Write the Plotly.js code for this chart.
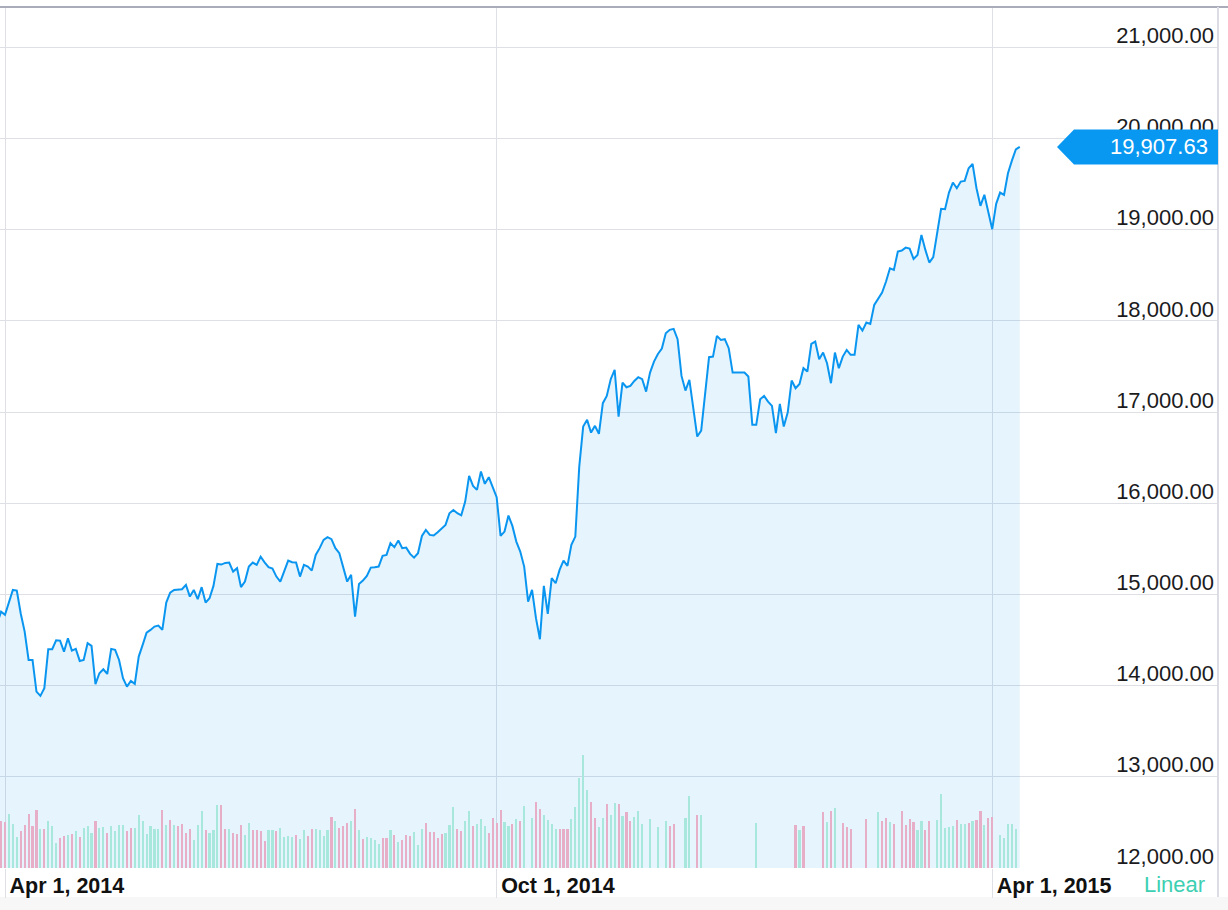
<!DOCTYPE html>
<html>
<head>
<meta charset="utf-8">
<script src="https://cdn.plot.ly/plotly-3.0.1.min.js"></script>
<style>
  html, body { margin: 0; padding: 0; background: #ffffff; }
  #chart { width: 1228px; height: 910px; }
</style>
</head>
<body>
<div id="chart"></div>
<script>
// ---- Data (Nikkei 225 daily closes) ----
const dates = [
  '2014-03-28','2014-03-31',
  '2014-04-01','2014-04-02','2014-04-03','2014-04-04','2014-04-07','2014-04-08','2014-04-09','2014-04-10','2014-04-11','2014-04-14','2014-04-15','2014-04-16','2014-04-17','2014-04-18','2014-04-21','2014-04-22','2014-04-23','2014-04-24','2014-04-25','2014-04-28','2014-04-30',
  '2014-05-01','2014-05-02','2014-05-07','2014-05-08','2014-05-09','2014-05-12','2014-05-13','2014-05-14','2014-05-15','2014-05-16','2014-05-19','2014-05-20','2014-05-21','2014-05-22','2014-05-23','2014-05-26','2014-05-27','2014-05-28','2014-05-29','2014-05-30',
  '2014-06-02','2014-06-03','2014-06-04','2014-06-05','2014-06-06','2014-06-09','2014-06-10','2014-06-11','2014-06-12','2014-06-13','2014-06-16','2014-06-17','2014-06-18','2014-06-19','2014-06-20','2014-06-23','2014-06-24','2014-06-25','2014-06-26','2014-06-27','2014-06-30',
  '2014-07-01','2014-07-02','2014-07-03','2014-07-04','2014-07-07','2014-07-08','2014-07-09','2014-07-10','2014-07-11','2014-07-14','2014-07-15','2014-07-16','2014-07-17','2014-07-18','2014-07-22','2014-07-23','2014-07-24','2014-07-25','2014-07-28','2014-07-29','2014-07-30','2014-07-31',
  '2014-08-01','2014-08-04','2014-08-05','2014-08-06','2014-08-07','2014-08-08','2014-08-11','2014-08-12','2014-08-13','2014-08-14','2014-08-15','2014-08-18','2014-08-19','2014-08-20','2014-08-21','2014-08-22','2014-08-25','2014-08-26','2014-08-27','2014-08-28','2014-08-29',
  '2014-09-01','2014-09-02','2014-09-03','2014-09-04','2014-09-05','2014-09-08','2014-09-09','2014-09-10','2014-09-11','2014-09-12','2014-09-16','2014-09-17','2014-09-18','2014-09-19','2014-09-22','2014-09-24','2014-09-25','2014-09-26','2014-09-29','2014-09-30',
  '2014-10-01','2014-10-02','2014-10-03','2014-10-06','2014-10-07','2014-10-08','2014-10-09','2014-10-10','2014-10-14','2014-10-15','2014-10-16','2014-10-17','2014-10-20','2014-10-21','2014-10-22','2014-10-23','2014-10-24','2014-10-27','2014-10-28','2014-10-29','2014-10-30','2014-10-31',
  '2014-11-04','2014-11-05','2014-11-06','2014-11-07','2014-11-10','2014-11-11','2014-11-12','2014-11-13','2014-11-14','2014-11-17','2014-11-18','2014-11-19','2014-11-20','2014-11-21','2014-11-25','2014-11-26','2014-11-27','2014-11-28',
  '2014-12-01','2014-12-02','2014-12-03','2014-12-04','2014-12-05','2014-12-08','2014-12-09','2014-12-10','2014-12-11','2014-12-12','2014-12-15','2014-12-16','2014-12-17','2014-12-18','2014-12-19','2014-12-22','2014-12-24','2014-12-25','2014-12-26','2014-12-29','2014-12-30','2014-12-31',
  '2015-01-01','2015-01-02','2015-01-05','2015-01-06','2015-01-07','2015-01-08','2015-01-09','2015-01-12','2015-01-13','2015-01-14','2015-01-15','2015-01-16','2015-01-19','2015-01-20','2015-01-21','2015-01-22','2015-01-23','2015-01-26','2015-01-27','2015-01-28','2015-01-29','2015-01-30',
  '2015-02-02','2015-02-03','2015-02-04','2015-02-05','2015-02-06','2015-02-09','2015-02-10','2015-02-11','2015-02-12','2015-02-13','2015-02-16','2015-02-17','2015-02-18','2015-02-19','2015-02-20','2015-02-23','2015-02-24','2015-02-25','2015-02-26','2015-02-27',
  '2015-03-02','2015-03-03','2015-03-04','2015-03-05','2015-03-06','2015-03-09','2015-03-10','2015-03-11','2015-03-12','2015-03-13','2015-03-16','2015-03-17','2015-03-18','2015-03-19','2015-03-20','2015-03-23','2015-03-24','2015-03-25','2015-03-26','2015-03-27','2015-03-30','2015-03-31',
  '2015-04-01','2015-04-02','2015-04-03','2015-04-06','2015-04-07','2015-04-08','2015-04-09','2015-04-10'
];

const closes = [
  14680,14810,
  14775,14926,15049,15041,14790,14592,14281,14281,13934,13887,13971,14399,14399,14497,14493,14372,14519,14383,14402,14270,14281,
  14465,14435,14015,14135,14178,14127,14402,14391,14281,14080,13988,14051,14018,14318,14446,14581,14610,14647,14658,14610,
  14910,15020,15049,15057,15057,15104,14976,15049,14947,15079,14910,14958,15093,15334,15327,15345,15349,15250,15287,15079,15140,
  15305,15349,15323,15414,15352,15298,15283,15195,15140,15268,15370,15352,15349,15195,15323,15305,15261,15433,15507,15597,15627,15605,
  15507,15452,15305,15140,15214,14756,15115,15151,15203,15294,15298,15305,15422,15433,15561,15517,15590,15507,15513,15444,15403,
  15452,15641,15707,15652,15645,15682,15726,15762,15890,15926,15890,15867,16017,16300,16190,16146,16347,16212,16285,16165,
  16066,15641,15689,15864,15751,15579,15469,15305,14921,15049,14739,14508,15093,14786,15177,15122,15268,15370,15312,15543,15634,16401,
  16840,16914,16774,16848,16760,17097,17177,17360,17462,16950,17323,17272,17287,17341,17382,17360,17224,17433,
  17553,17637,17696,17864,17901,17912,17799,17396,17235,17352,17067,16731,16796,17169,17601,17608,17835,17791,17799,17700,17433,17433,
  17433,17433,17389,16859,16859,17140,17177,17114,17067,16768,17089,16840,16994,17345,17261,17308,17481,17443,17747,17772,17579,17652,
  17535,17316,17652,17481,17608,17681,17627,17627,17956,17893,17981,17966,18175,18248,18310,18431,18577,18559,18760,18771,
  18803,18792,18680,18723,18942,18778,18639,18698,18968,19228,19224,19407,19517,19454,19527,19535,19674,19721,19454,19261,19382,19181,
  19005,19283,19407,19382,19619,19757,19880,19907.63
];

// Volume (millions of shares); null = no bar
const volumes = [
  null,140,
  138,161,131,93,110, 128,161,126,174,118, 118,142,125,74,91, 96,100,103,112,94, 121,
  126,106,141,119,122, 105,127,110,129,128, 110,120,119,158,140, 103,126,116,118,175,
  128,143,129,125,133, 104,118,83,129,170, 113,105,115,190,190, 117,118,104,102,128, 98,
  134,114,113,110,81, 115,115,111,121,93, 95,94,98,88,113, 96,118,117,113,95, 114,152,
  141,121,127,134,141, 176,113,86,93,91, 85,72,91,90,115, 98,78,83,98,95, 107,
  70,118,135,107,107, 91,102,106,128,182, 118,112,140,170,127, 131,146,125,104,151,
  135,175,137,125,133, 148,140,185,null,150, 199,178,160,143,133, 116,118,118,118,146, 183,271,
  340,233,199,151,123, 151,193,158,196,193, 156,169,142,154,170, 133,null,146,
  null,122,null,140,126, 133,null,null,149,215, null,158,160,null,null, null,null,null,null,null, null,null,
  null,null,null,null,136, null,null,null,null,null, null,null,null,null,128, 115,125,null,null,null, null,168,
  138,170,180,null,136, 123,118,null,null,null, 146,null,null,168,140, 151,138,133,null,170,
  128,148,138,115,140, 115,142,null,143,221, 121,124,126,145,131, 131,136,140,145,171, 130,149,
  153,null,98,90,131, 133,116,null
];

// Volume bar colour per day: u = teal (up), d = pink (down), - = no bar
const volumeDirection = (
  '-d' +
  'duuud ddddu duuud dudud u' +
  'uuduu duuuu dduuu uuuud' +
  'ududd dduuu duuud duddd u' +
  'udddd uuduu uuduu dduuu ud' +
  'udddu duduu uuddu duddd u' +
  'uuddd dduuu dduud uuudd' +
  'dduud udu-u dduuu udddu uu' +
  'uuddu uduud udduu u-u' +
  '-u-ud d--uu -du-- ----- --' +
  '----u ----- ----d ud--- -d' +
  'udu-d dd--- d--ud dud-d' +
  'ddduu dd-uu uuudu ududd ud' +
  'd-uuu uu-'
).replace(/ /g, '').split('');

// Non-trading days without a row (removed from the time axis)
const holidays = ['2014-04-29','2014-05-05','2014-05-06','2014-07-21','2014-09-15','2014-09-23',
                  '2014-10-13','2014-11-03','2014-11-24','2014-12-23'];

const tickDates  = ['2014-04-01', '2014-10-01', '2015-04-01'];
const tickLabels = ['Apr 1, 2014', 'Oct 1, 2014', 'Apr 1, 2015'];

// ---- Styling ----
const FONT = "'Liberation Sans', Arial, Helvetica, sans-serif";
const LINE_BLUE = 'rgb(10,150,240)';
const GRID = '#dfdfe6';
const PINK = 'rgb(231,174,199)';
const TEAL = 'rgb(168,231,220)';

const lastClose = closes[closes.length - 1];
const lastLabel = lastClose.toLocaleString('en-US', {minimumFractionDigits: 2, maximumFractionDigits: 2});

const volumeTrace = {
  type: 'bar',
  x: dates,
  y: volumes,
  yaxis: 'y2',
  width: 0.55 * 86400000,
  marker: { color: volumeDirection.map(d => d === 'd' ? PINK : TEAL), line: { width: 0 } },
  hoverinfo: 'skip'
};

const priceTrace = {
  type: 'scatter',
  mode: 'lines',
  x: dates,
  y: closes,
  line: { color: LINE_BLUE, width: 2 },
  fill: 'tozeroy',
  fillcolor: 'rgba(0,145,240,0.1)',
  hoverinfo: 'skip'
};

const layout = {
  width: 1228,
  height: 910,
  margin: { l: 0, r: 10, t: 7, b: 42, pad: 0 },
  paper_bgcolor: '#ffffff',
  plot_bgcolor: '#ffffff',
  showlegend: false,
  font: { family: FONT, size: 21.5, color: '#1b1b1d' },
  bargap: 0,
  xaxis: {
    type: 'date',
    range: ['2014-03-28 17:30', '2015-06-19 09:36'],
    rangebreaks: [ { bounds: ['sat', 'mon'] }, { values: holidays } ],
    tickmode: 'array',
    tickvals: tickDates,
    ticktext: tickLabels,
    showgrid: true,
    gridcolor: GRID,
    gridwidth: 1,
    ticks: 'outside',
    ticklen: 29,
    tickwidth: 1,
    tickcolor: GRID,
    ticklabelposition: 'outside right',
    ticklabelstandoff: -2,
    ticklabelshift: 4,
    tickfont: { family: FONT, size: 21.5, color: '#111111', weight: 'bold' },
    zeroline: false,
    showline: false,
    fixedrange: true
  },
  yaxis: {
    range: [11999, 21442],
    side: 'right',
    tickmode: 'linear',
    tick0: 12000,
    dtick: 1000,
    tickformat: ',.2f',
    ticklabelposition: 'inside',
    ticklabelshift: -12,
    ticklabelstandoff: 1,
    ticklabeloverflow: 'allow',
    ticks: '',
    showgrid: true,
    gridcolor: GRID,
    gridwidth: 1,
    zeroline: false,
    showline: false,
    tickfont: { family: FONT, size: 22, color: '#1b1b1d' },
    fixedrange: true
  },
  yaxis2: {
    overlaying: 'y',
    range: [0, 2583],
    visible: false,
    fixedrange: true
  },
  shapes: [
    // light band under the date labels
    { type: 'rect', xref: 'paper', yref: 'paper', x0: 0, x1: 1.01, y0: -0.0337, y1: -0.0488,
      fillcolor: '#f7f7f7', line: { width: 0 }, layer: 'below' },
    // top border
    { type: 'line', xref: 'paper', yref: 'paper', x0: 0, x1: 1.01, y0: 1, y1: 1,
      line: { color: '#aaacba', width: 2 } },
    // right border
    { type: 'line', xref: 'paper', yref: 'paper', x0: 1, x1: 1, y0: -0.0337, y1: 1,
      line: { color: '#dcdce4', width: 2 } },
    // last-price tag
    { type: 'path', xref: 'paper', yref: 'y', xsizemode: 'pixel', ysizemode: 'pixel',
      xanchor: 1, yanchor: lastClose,
      path: 'M-161,0 L-144,17.5 L0,17.5 L0,-17.5 L-144,-17.5 Z',
      fillcolor: 'rgb(8,152,242)', line: { width: 0 }, layer: 'above' }
  ],
  annotations: [
    { xref: 'paper', yref: 'y', x: 0.99384, y: lastClose, xanchor: 'right', yanchor: 'middle',
      text: lastLabel, showarrow: false,
      font: { family: FONT, size: 22, color: '#ffffff' } },
    { xref: 'paper', yref: 'paper', x: 0.99072, y: -0.0186, xanchor: 'right', yanchor: 'middle',
      text: 'Linear', showarrow: false,
      font: { family: FONT, size: 22, color: '#3dcfb2' } }
  ]
};

Plotly.newPlot('chart', [priceTrace, volumeTrace], layout, { staticPlot: true, displayModeBar: false });
</script>
</body>
</html>
